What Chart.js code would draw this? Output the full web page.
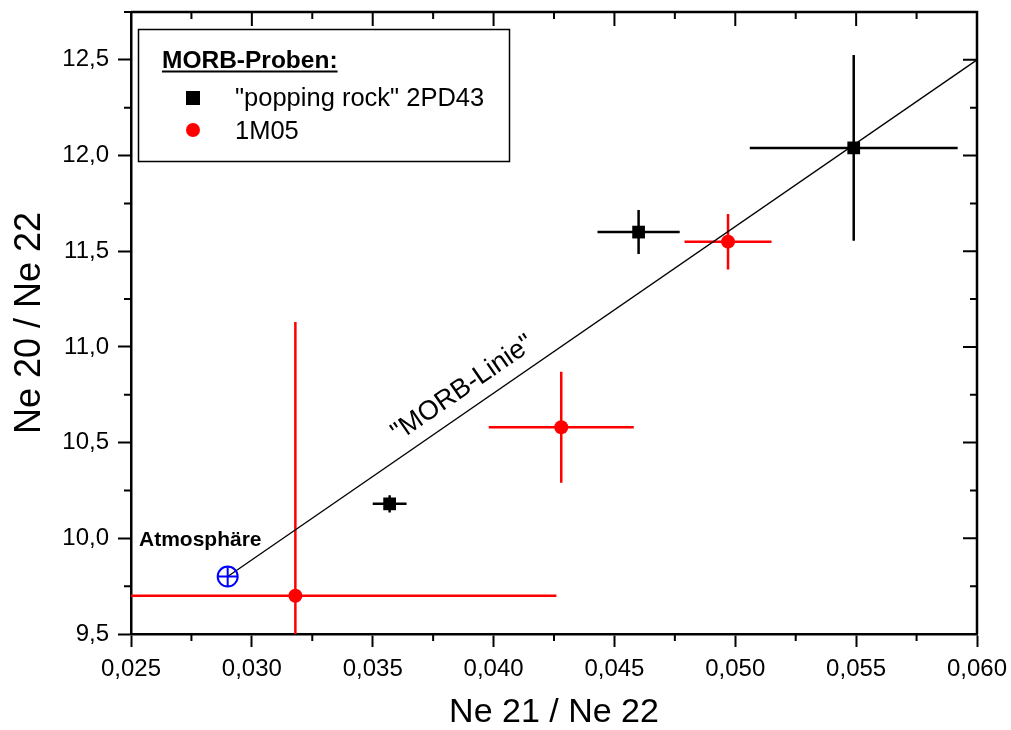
<!DOCTYPE html>
<html lang="de">
<head>
<meta charset="UTF-8">
<title>MORB Ne-Isotope</title>
<script src="https://cdn.jsdelivr.net/npm/chart.js@4"></script>
<style>
  body { margin: 0; background: #fff; }
  #wrap { position: relative; width: 1011px; height: 730px; }
</style>
</head>
<body>
<div id="wrap"><canvas id="chart" width="1011" height="730"></canvas></div>
<script>
// "popping rock" 2PD43
const popX = [0.0357, 0.0460, 0.0549];
const popY = [10.18, 11.60, 12.04];
const popXErr = [0.0007, 0.0017, 0.0043];
const popYErr = [0.045, 0.115, 0.485];

// 1M05
const m05X = [0.0318, 0.0428, 0.0497];
const m05Y = [9.70, 10.58, 11.55];
const m05XErr = [0.0108, 0.0030, 0.0018];
const m05YErr = [1.43, 0.29, 0.145];

// Atmosphaere und MORB-Linie
const atmX = [0.029];
const atmY = [9.8];
const lineX = [0.029, 0.060];
const lineY = [9.8, 12.5];

// Achsen
const xTicks = [0.025, 0.030, 0.035, 0.040, 0.045, 0.050, 0.055, 0.060];
const xMinor = [0.0275, 0.0325, 0.0375, 0.0425, 0.0475, 0.0525, 0.0575];
const yTicks = [9.5, 10.0, 10.5, 11.0, 11.5, 12.0, 12.5];
const yMinor = [9.75, 10.25, 10.75, 11.25, 11.75, 12.25, 12.75];

const FONT = "'Liberation Sans', Arial, sans-serif";
Chart.defaults.font.family = FONT;
Chart.defaults.color = '#000';

const pts = (xs, ys) => xs.map((x, i) => ({ x: x, y: ys[i] }));

// error bars, clipped to the plot area
const errorBars = {
  id: 'errorBars',
  beforeDatasetsDraw(chart) {
    const { ctx, chartArea: a, scales: { x, y } } = chart;
    ctx.save();
    ctx.beginPath();
    ctx.rect(a.left, a.top, a.right - a.left, a.bottom - a.top);
    ctx.clip();
    ctx.lineWidth = 2.5;
    const draw = (xs, ys, xe, ye, col) => {
      ctx.strokeStyle = col;
      xs.forEach((v, i) => {
        const px = x.getPixelForValue(v), py = y.getPixelForValue(ys[i]);
        ctx.beginPath();
        ctx.moveTo(x.getPixelForValue(v - xe[i]), py);
        ctx.lineTo(x.getPixelForValue(v + xe[i]), py);
        ctx.moveTo(px, y.getPixelForValue(ys[i] - ye[i]));
        ctx.lineTo(px, y.getPixelForValue(ys[i] + ye[i]));
        ctx.stroke();
      });
    };
    draw(popX, popY, popXErr, popYErr, '#000');
    draw(m05X, m05Y, m05XErr, m05YErr, '#ff0000');
    ctx.restore();
  }
};

// frame, mirrored ticks and minor ticks
const frame = {
  id: 'frame',
  afterDraw(chart) {
    const { ctx, chartArea: a, scales: { x, y } } = chart;
    ctx.save();
    ctx.strokeStyle = '#000';
    ctx.lineWidth = 2.5;
    ctx.beginPath();
    ctx.moveTo(a.left, a.top); ctx.lineTo(a.right, a.top); ctx.lineTo(a.right, a.bottom);
    ctx.stroke();
    ctx.lineWidth = 2;
    ctx.beginPath();
    xTicks.forEach(v => { const p = x.getPixelForValue(v); ctx.moveTo(p, a.top); ctx.lineTo(p, a.top + 14); });
    xMinor.forEach(v => {
      const p = x.getPixelForValue(v);
      ctx.moveTo(p, a.top); ctx.lineTo(p, a.top + 7);
      ctx.moveTo(p, a.bottom); ctx.lineTo(p, a.bottom + 7);
    });
    yTicks.forEach(v => { const p = y.getPixelForValue(v); ctx.moveTo(a.right, p); ctx.lineTo(a.right - 14, p); });
    yMinor.forEach(v => {
      const p = y.getPixelForValue(v);
      ctx.moveTo(a.right, p); ctx.lineTo(a.right - 7, p);
      ctx.moveTo(a.left, p); ctx.lineTo(a.left - 7, p);
    });
    ctx.stroke();
    ctx.restore();
  }
};

// labels in the plot and the legend box
const notes = {
  id: 'notes',
  afterDatasetsDraw(chart) {
    const { ctx, scales: { x, y } } = chart;
    ctx.save();
    ctx.fillStyle = '#000';

    // Atmosphaere
    ctx.font = 'bold 21px ' + FONT;
    ctx.textAlign = 'left';
    ctx.textBaseline = 'alphabetic';
    ctx.fillText('Atmosphäre', 139, 546);

    // MORB-Linie, along the line
    const x0 = x.getPixelForValue(lineX[0]), y0 = y.getPixelForValue(lineY[0]);
    const x1 = x.getPixelForValue(lineX[1]), y1 = y.getPixelForValue(lineY[1]);
    const ang = Math.atan2(y1 - y0, x1 - x0);
    const t = 0.33;
    ctx.translate(x0 + (x1 - x0) * t, y0 + (y1 - y0) * t);
    ctx.rotate(ang);
    ctx.font = '27px ' + FONT;
    ctx.textAlign = 'center';
    ctx.fillText('"MORB-Linie"', 0, -14);
    ctx.setTransform(1, 0, 0, 1, 0, 0);

    // legend
    ctx.lineWidth = 1.5;
    ctx.strokeStyle = '#000';
    ctx.strokeRect(138.5, 29.5, 371, 132);
    ctx.textAlign = 'left';
    ctx.font = 'bold 24.5px ' + FONT;
    const title = 'MORB-Proben:';
    ctx.fillText(title, 162, 68);
    ctx.fillRect(162, 70.5, ctx.measureText(title).width, 2);
    ctx.font = '25.5px ' + FONT;
    ctx.fillRect(186, 91, 14, 14);
    ctx.fillText('"popping rock" 2PD43', 235, 106);
    ctx.fillStyle = '#ff0000';
    ctx.beginPath();
    ctx.arc(193, 130, 7, 0, Math.PI * 2);
    ctx.fill();
    ctx.fillStyle = '#000';
    ctx.fillText('1M05', 235, 139);
    ctx.restore();
  }
};

new Chart(document.getElementById('chart'), {
  type: 'scatter',
  data: {
    datasets: [
      { label: '"popping rock" 2PD43', data: pts(popX, popY), pointStyle: 'rect',
        pointRadius: 9, backgroundColor: '#000', borderWidth: 0 },
      { label: '1M05', data: pts(m05X, m05Y), pointStyle: 'circle',
        pointRadius: 7, backgroundColor: '#ff0000', borderWidth: 0 },
      { label: 'Atmosphäre', data: pts(atmX, atmY), pointStyle: 'cross',
        pointRadius: 10, borderColor: '#0000ff', borderWidth: 2 },
      { label: 'Atmosphäre', data: pts(atmX, atmY), pointStyle: 'circle',
        pointRadius: 10, backgroundColor: 'rgba(0,0,0,0)', borderColor: '#0000ff', borderWidth: 2 },
      { label: 'MORB-Linie', data: pts(lineX, lineY), showLine: true,
        borderColor: '#000', borderWidth: 1.3, pointRadius: 0 }
    ]
  },
  options: {
    responsive: false,
    animation: false,
    layout: { padding: { top: 9, right: 34, left: 0, bottom: 0 } },
    plugins: { legend: { display: false }, tooltip: { enabled: false } },
    scales: {
      x: {
        type: 'linear', min: 0.025, max: 0.060,
        afterBuildTicks: s => { s.ticks = xTicks.map(v => ({ value: v })); },
        afterFit: s => { s.height = 96; s.paddingLeft = 0; s.paddingRight = 0; },
        border: { color: '#000', width: 2.5 },
        grid: { drawOnChartArea: false, tickLength: 13, tickWidth: 2, tickColor: '#000' },
        ticks: { font: { size: 24 }, color: '#000', padding: 8, maxRotation: 0,
                 callback: v => v.toFixed(3).replace('.', ',') },
        title: { display: true, text: 'Ne 21 / Ne 22', color: '#000',
                 font: { size: 34, lineHeight: 1 }, padding: { top: 0, bottom: 0 } }
      },
      y: {
        type: 'linear', min: 9.5, max: 12.75,
        afterBuildTicks: s => { s.ticks = yTicks.map(v => ({ value: v })); },
        afterFit: s => { s.width = 131; s.paddingTop = 0; s.paddingBottom = 0; },
        border: { color: '#000', width: 2.5 },
        grid: { drawOnChartArea: false, tickLength: 13, tickWidth: 2, tickColor: '#000' },
        ticks: { font: { size: 24 }, color: '#000', padding: 9,
                 callback: v => v.toFixed(1).replace('.', ',') },
        title: { display: true, text: 'Ne 20 / Ne 22', color: '#000',
                 font: { size: 36, lineHeight: 1 }, padding: { top: 12, bottom: 0 } }
      }
    }
  },
  plugins: [errorBars, frame, notes]
});
</script>
</body>
</html>
